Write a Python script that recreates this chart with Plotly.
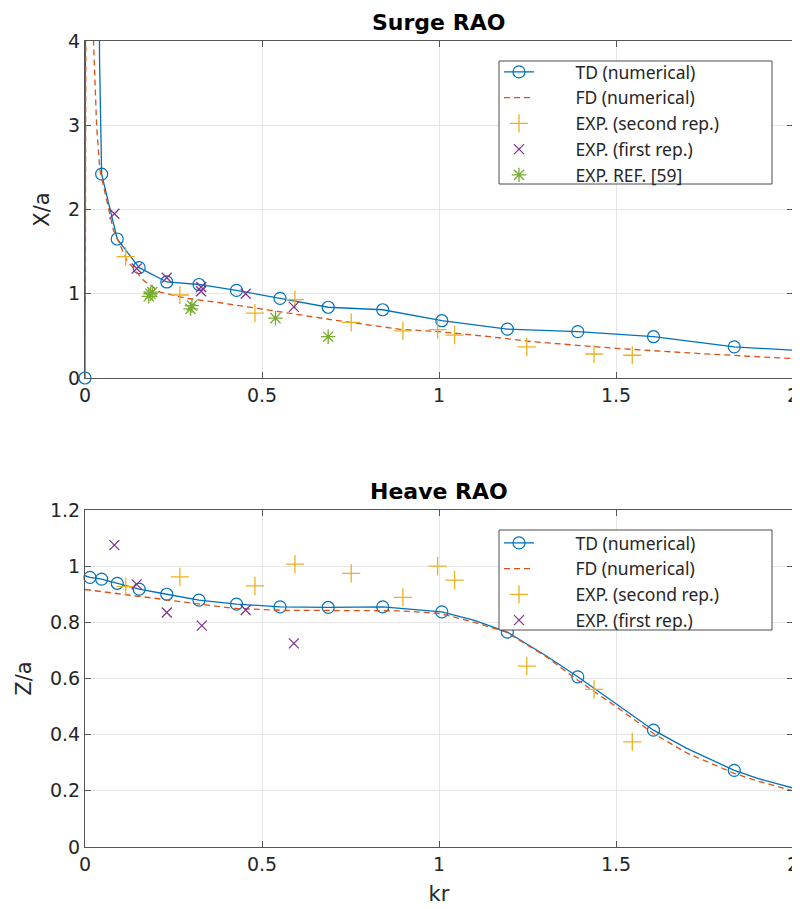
import plotly.graph_objects as go

# ---------------- Surge RAO data ----------------
surge_td_line_kr = [0.0, 0.002, 0.040, 0.041, 0.047, 0.091, 0.153, 0.231, 0.322, 0.428, 0.551,
                    0.687, 0.841, 1.008, 1.193, 1.392, 1.606, 1.834, 2.0]
surge_td_line = [0.0, 8.0, 8.0, 3.8, 2.42, 1.65, 1.31, 1.14, 1.11, 1.04, 0.945,
                 0.84, 0.81, 0.68, 0.58, 0.55, 0.49, 0.37, 0.33]
surge_td_mark_kr = [0.0, 0.047, 0.091, 0.153, 0.231, 0.322, 0.428, 0.551, 0.687, 0.841,
                    1.008, 1.193, 1.392, 1.606, 1.834]
surge_td_mark = [0.0, 2.42, 1.65, 1.31, 1.14, 1.11, 1.04, 0.945, 0.84, 0.81,
                 0.68, 0.58, 0.55, 0.49, 0.37]
surge_fd_kr = [0.001, 0.004, 0.022, 0.024, 0.033, 0.042, 0.080, 0.118, 0.165, 0.212, 0.287,
               0.362, 0.513, 0.700, 0.890, 1.000, 1.144, 1.266, 1.500, 1.737, 2.0]
surge_fd = [0.9, 8.0, 8.0, 4.0, 2.98, 2.47, 1.76, 1.40, 1.16, 1.02, 0.945,
            0.905, 0.81, 0.69, 0.578, 0.55, 0.49, 0.43, 0.352, 0.29, 0.23]

exp2_kr = [0.115, 0.268, 0.480, 0.593, 0.752, 0.898, 0.996, 1.044, 1.248, 1.438, 1.546]
surge_exp2 = [1.44, 0.985, 0.77, 0.93, 0.66, 0.56, 0.575, 0.51, 0.37, 0.285, 0.27]
exp1_surge_kr = [0.083, 0.146, 0.231, 0.328, 0.328, 0.454, 0.590]
surge_exp1 = [1.95, 1.30, 1.19, 1.08, 1.03, 1.00, 0.845]
ref59_kr = [0.180, 0.185, 0.190, 0.298, 0.302, 0.538, 0.687]
surge_ref59 = [0.97, 1.00, 1.02, 0.82, 0.86, 0.71, 0.49]

# ---------------- Heave RAO data ----------------
heave_td_line_kr = [0.0, 0.014, 0.047, 0.091, 0.153, 0.231, 0.322, 0.428, 0.551, 0.687, 0.841,
                    1.008, 1.10, 1.193, 1.30, 1.392, 1.50, 1.606, 1.70, 1.834, 1.90, 2.0]
heave_td_line = [0.966, 0.96, 0.954, 0.939, 0.918, 0.90, 0.879, 0.865, 0.855, 0.853, 0.855,
                 0.837, 0.807, 0.765, 0.683, 0.606, 0.511, 0.416, 0.351, 0.273, 0.244, 0.21]
heave_td_mark_kr = [0.014, 0.047, 0.091, 0.153, 0.231, 0.322, 0.428, 0.551, 0.687, 0.841,
                    1.008, 1.193, 1.392, 1.606, 1.834]
heave_td_mark = [0.96, 0.954, 0.939, 0.918, 0.90, 0.879, 0.865, 0.855, 0.853, 0.855,
                 0.837, 0.765, 0.606, 0.416, 0.273]
heave_fd_kr = [0.0, 0.09, 0.23, 0.42, 0.55, 0.89, 1.0, 1.10, 1.19, 1.30, 1.392, 1.50,
               1.606, 1.70, 1.834, 1.90, 2.0]
heave_fd = [0.917, 0.903, 0.879, 0.85, 0.843, 0.841, 0.832, 0.80, 0.765, 0.68, 0.594, 0.50,
            0.404, 0.335, 0.262, 0.235, 0.20]
heave_exp2 = [0.927, 0.962, 0.93, 1.007, 0.974, 0.889, 1.0, 0.95, 0.644, 0.561, 0.374]
exp1_heave_kr = [0.083, 0.146, 0.231, 0.330, 0.454, 0.590]
heave_exp1 = [1.075, 0.935, 0.835, 0.788, 0.844, 0.725]

x_ticks = [0, 0.5, 1, 1.5, 2]
x_ticktext = ["0", "0.5", "1", "1.5", "2"]
surge_yticks = [0, 1, 2, 3, 4]
heave_yticks = [0, 0.2, 0.4, 0.6, 0.8, 1.0, 1.2]
heave_yticktext = ["0", "0.2", "0.4", "0.6", "0.8", "1", "1.2"]

names = ["TD (numerical)", "FD (numerical)", "EXP. (second rep.)", "EXP. (first rep.)", "EXP. REF. [59]"]

BLUE = "#0072BD"
ORANGE = "#D95319"
YELLOW = "#EDB120"
PURPLE = "#7E2F8E"
GREEN = "#77AC30"

PAD = " " * 8  # gap between legend symbol and its text

fig = go.Figure()


def add_panel(xa, ya, leg, td_lx, td_ly, td_mx, td_my, fd_x, fd_y, e2x, e2y, e1x, e1y, rx=None, ry=None):
    fig.add_trace(go.Scatter(x=td_lx, y=td_ly, mode="lines", line=dict(color=BLUE, width=1.3),
                             xaxis=xa, yaxis=ya, showlegend=False, hoverinfo="skip"))
    fig.add_trace(go.Scatter(x=td_mx, y=td_my, mode="markers", xaxis=xa, yaxis=ya, showlegend=False,
                             marker=dict(symbol="circle-open", size=12, color=BLUE, line=dict(width=1.2, color=BLUE)),
                             cliponaxis=False))
    fig.add_trace(go.Scatter(x=[None], y=[None], mode="lines+markers", name=PAD + names[0],
                             xaxis=xa, yaxis=ya, legend=leg,
                             line=dict(color=BLUE, width=1.3),
                             marker=dict(symbol="circle-open", size=12, color=BLUE, line=dict(width=1.2, color=BLUE))))
    fig.add_trace(go.Scatter(x=fd_x, y=fd_y, mode="lines", name=PAD + names[1], xaxis=xa, yaxis=ya, legend=leg,
                             line=dict(color=ORANGE, width=1.3, dash="6px,4px")))
    fig.add_trace(go.Scatter(x=e2x, y=e2y, mode="markers", name=PAD + names[2], xaxis=xa, yaxis=ya, legend=leg,
                             marker=dict(symbol="cross-thin-open", size=13, color=YELLOW,
                                         line=dict(width=1.3, color=YELLOW))))
    fig.add_trace(go.Scatter(x=e1x, y=e1y, mode="markers", name=PAD + names[3], xaxis=xa, yaxis=ya, legend=leg,
                             marker=dict(symbol="x-thin-open", size=10, color=PURPLE,
                                         line=dict(width=1.2, color=PURPLE))))
    if rx is not None:
        fig.add_trace(go.Scatter(x=rx, y=ry, mode="markers", name=PAD + names[4], xaxis=xa, yaxis=ya, legend=leg,
                                 marker=dict(symbol="asterisk-open", size=12, color=GREEN,
                                             line=dict(width=1.3, color=GREEN))))


add_panel("x", "y", "legend", surge_td_line_kr, surge_td_line, surge_td_mark_kr, surge_td_mark,
          surge_fd_kr, surge_fd, exp2_kr, surge_exp2, exp1_surge_kr, surge_exp1, ref59_kr, surge_ref59)
add_panel("x2", "y2", "legend2", heave_td_line_kr, heave_td_line, heave_td_mark_kr, heave_td_mark,
          heave_fd_kr, heave_fd, exp2_kr, heave_exp2, exp1_heave_kr, heave_exp1)

W, H = 800, 909
OFF = 8  # page body margin


def PX(px):
    return (px - OFF) / W


def PY(py):
    return 1 - (py - OFF) / H


tick_font = dict(family="DejaVu Sans", size=19, color="#262626")
axis_common = dict(showline=True, mirror="ticks", linecolor="#555555", linewidth=1,
                   ticks="inside", ticklen=6, tickcolor="#555555", tickwidth=1,
                   showgrid=True, gridcolor="#e6e6e6", gridwidth=1, zeroline=False,
                   tickfont=tick_font, automargin=False)
title_font = dict(family="DejaVu Sans", size=21, color="#262626")
legend_font = dict(family="Noto Sans", size=17.5, color="#262626")

shapes = [
    dict(type="rect", xref="paper", yref="paper", x0=PX(499), x1=PX(772), y0=PY(184), y1=PY(61),
         fillcolor="white", line=dict(color="#4d4d4d", width=1), layer="above"),
    dict(type="rect", xref="paper", yref="paper", x0=PX(499), x1=PX(772), y0=PY(630), y1=PY(530),
         fillcolor="white", line=dict(color="#4d4d4d", width=1), layer="above"),
]

fig.update_layout(
    width=W, height=H, paper_bgcolor="white", plot_bgcolor="white",
    margin=dict(l=0, r=0, t=0, b=0, autoexpand=False),
    font=dict(family="DejaVu Sans", color="#262626"),
    xaxis=dict(domain=[PX(85), PX(793)], range=[0, 2], tickvals=x_ticks, ticktext=x_ticktext, anchor="y",
               **axis_common),
    yaxis=dict(domain=[PY(378), PY(41)], range=[0, 4], tickvals=surge_yticks, anchor="x",
               title=dict(text="X/a", font=title_font, standoff=12),
               **axis_common),
    xaxis2=dict(domain=[PX(85), PX(793)], range=[0, 2], tickvals=x_ticks, ticktext=x_ticktext, anchor="y2",
                title=dict(text="kr", font=title_font, standoff=12),
                **axis_common),
    yaxis2=dict(domain=[PY(847), PY(510)], range=[0, 1.2], tickvals=heave_yticks,
                ticktext=heave_yticktext, anchor="x2",
                title=dict(text="Z/a", font=title_font, standoff=12),
                **axis_common),
    legend=dict(x=PX(499), y=PY(54), xanchor="left", yanchor="top", bgcolor="rgba(0,0,0,0)",
                borderwidth=0, itemwidth=30, font=legend_font, tracegroupgap=0),
    legend2=dict(x=PX(499), y=PY(525), xanchor="left", yanchor="top", bgcolor="rgba(0,0,0,0)",
                 borderwidth=0, itemwidth=30, font=legend_font, tracegroupgap=0),
    shapes=shapes,
    annotations=[
        dict(text="<b>Surge RAO</b>", x=PX(439), y=PY(22), xref="paper", yref="paper",
             showarrow=False, xanchor="center", yanchor="middle",
             font=dict(family="DejaVu Sans", size=22, color="black")),
        dict(text="<b>Heave RAO</b>", x=PX(439), y=PY(492), xref="paper", yref="paper",
             showarrow=False, xanchor="center", yanchor="middle",
             font=dict(family="DejaVu Sans", size=22, color="black")),
    ],
)

fig.write_html("out.html")
